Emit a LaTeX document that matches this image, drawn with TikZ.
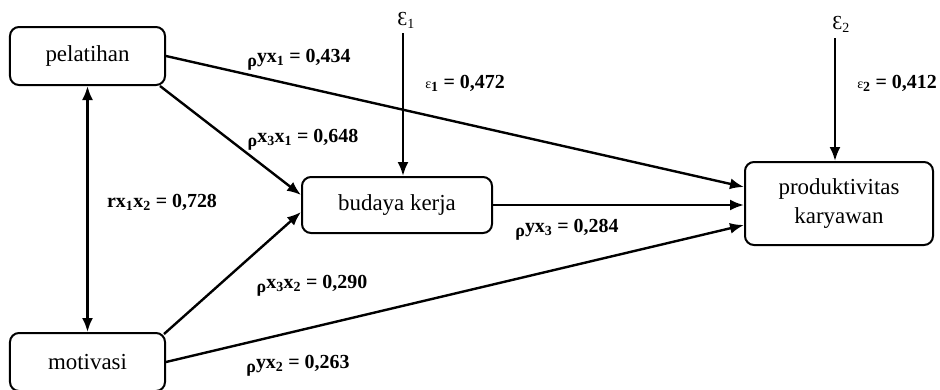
\documentclass[tikz,border=0pt]{standalone}
\usepackage{fontspec}
\setmainfont{Liberation Serif}
\usetikzlibrary{arrows.meta}
\begin{document}
\begin{tikzpicture}[x=1bp,y=-1bp,
  box/.style={draw,line width=2bp,rounded corners=9bp,inner sep=0pt,font=\fontsize{23}{30}\selectfont,align=center},
  arr/.style={line width=2.4bp,-{Latex[length=14bp,width=11bp]}},
  darr/.style={line width=2.4bp,{Latex[length=14bp,width=11bp]}-{Latex[length=14bp,width=11bp]}},
  lab/.style={font=\bfseries\fontsize{20}{22}\selectfont,inner sep=0pt}]
\newcommand{\myrho}{\raisebox{-4bp}{\fontsize{18}{19}\selectfont ρ}}
\useasboundingbox (0,0) rectangle (940,389);
\node[box,minimum width=155bp,minimum height=58bp] (pel) at (87.5,56) {pelatihan};
\node[box,minimum width=155bp,minimum height=58bp] (mot) at (87.5,362) {motivasi};
\node[box,minimum width=190bp,minimum height=56bp] (bud) at (397,205) {budaya kerja};
\node[box,minimum width=188bp,minimum height=83bp] (prod) at (839,203.5) {produktivitas\\karyawan};
\node[inner sep=0pt,font=\fontsize{20}{22}\selectfont] (e1) at (406,20) {Ɛ\textsubscript{1}};
\node[inner sep=0pt,font=\fontsize{20}{22}\selectfont] (e2) at (841,24) {Ɛ\textsubscript{2}};
\coordinate (e1b) at (403,33);
\coordinate (e2b) at (835,38);
% arrows
\draw[arr] (e1b) -- (bud.north -| e1b);
\draw[arr] (e2b) -- (prod.north -| e2b);
\draw[darr] (pel.south) -- (mot.north);
\draw[arr] (pel.east) -- ([yshift=16.5bp]prod.west);
\draw[arr] ([xshift=-6bp]pel.south east) -- ([yshift=10bp]bud.west);
\draw[arr] (bud.east) -- (bud.east -| prod.west);
\draw[arr] ([xshift=-2bp,yshift=-2bp]mot.north east) -- ([yshift=-7bp]bud.west);
\draw[arr] (mot.east) -- ([yshift=-21.5bp]prod.west);
% labels
\node[lab] (l1) at (299,60) {\myrho yx\textsubscript{1} = 0,434};
\node[lab] (l2) at (303,140) {\myrho x\textsubscript{3}x\textsubscript{1} = 0,648};
\node[lab] (l3) at (465,83) {{\mdseries\fontsize{14}{15}\selectfont ɛ}\textsubscript{1} = 0,472};
\node[lab] (l4) at (897,83) {{\mdseries\fontsize{14}{15}\selectfont ɛ}\textsubscript{2} = 0,412};
\node[lab] (l5) at (162,202) {rx\textsubscript{1}x\textsubscript{2} = 0,728};
\node[lab] (l6) at (567,230) {\myrho yx\textsubscript{3} = 0,284};
\node[lab] (l7) at (312,286) {\myrho x\textsubscript{3}x\textsubscript{2} = 0,290};
\node[lab] (l8) at (298,366) {\myrho yx\textsubscript{2} = 0,263};
\end{tikzpicture}
\end{document}
